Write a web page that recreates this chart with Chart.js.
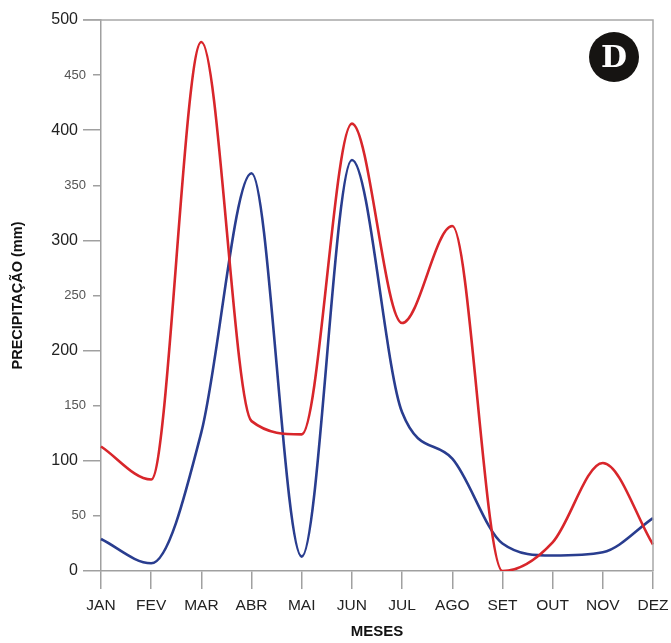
<!DOCTYPE html>
<html>
<head>
<meta charset="utf-8">
<script src="https://cdn.jsdelivr.net/npm/chart.js@4"></script>
<style>
  html, body { margin: 0; padding: 0; background: #fff; }
  #wrap { position: relative; width: 671px; height: 643px; }
  #badge {
    position: absolute; left: 589px; top: 32px; width: 50px; height: 50px;
    border-radius: 50%; background: #161412; color: #fff;
    font: bold 30px "DejaVu Serif", "Liberation Serif", serif;
    text-align: center; line-height: 50px;
  }
</style>
</head>
<body>
<div id="wrap">
  <canvas id="chuva" width="671" height="643"></canvas>
  <div id="badge">D</div>
</div>
<script>
// meses e precipitação (mm)
var meses = ['JAN', 'FEV', 'MAR', 'ABR', 'MAI', 'JUN', 'JUL', 'AGO', 'SET', 'OUT', 'NOV', 'DEZ'];
var serieVermelha = [113, 83, 480, 136, 124, 406, 225, 313, 0, 26, 98, 24];
var serieAzul = [29, 7, 126, 361, 13, 373, 144, 102, 25, 14, 17, 48];
var ticksMaiores = [0, 100, 200, 300, 400, 500];

function ehMaior(v) { return ticksMaiores.indexOf(v) >= 0; }

// moldura de cima e da direita
var moldura = {
  id: 'moldura',
  afterDraw: function(chart) {
    var a = chart.chartArea;
    var c = chart.ctx;
    c.save();
    c.strokeStyle = '#a8a8a8';
    c.lineWidth = 1.5;
    c.beginPath();
    c.moveTo(a.left - 18, a.top);
    c.lineTo(a.right, a.top);
    c.lineTo(a.right, a.bottom);
    c.stroke();
    c.restore();
  }
};

var ctx = document.getElementById('chuva').getContext('2d');
var grafico = new Chart(ctx, {
  type: 'line',
  data: {
    labels: meses,
    datasets: [
      {
        label: 'vermelha',
        data: serieVermelha,
        borderColor: '#d8262b',
        borderWidth: 2.6,
        pointRadius: 0,
        cubicInterpolationMode: 'monotone'
      },
      {
        label: 'azul',
        data: serieAzul,
        borderColor: '#293d8f',
        borderWidth: 2.6,
        pointRadius: 0,
        cubicInterpolationMode: 'monotone'
      }
    ]
  },
  options: {
    responsive: false,
    animation: false,
    layout: { padding: { left: 0, right: 18, top: 20, bottom: 0 } },
    plugins: { legend: { display: false }, tooltip: { enabled: false } },
    scales: {
      x: {
        offset: false,
        grid: { drawOnChartArea: false, tickLength: 18, color: '#a0a0a0', lineWidth: 1.5 },
        border: { color: '#a0a0a0', width: 1.5 },
        ticks: {
          color: '#222',
          padding: 7,
          maxRotation: 0,
          autoSkip: false,
          font: { family: 'Liberation Sans, Arial, sans-serif', size: 15.5 }
        },
        title: {
          display: true,
          text: 'MESES',
          color: '#111',
          padding: { top: 3, bottom: 2 },
          font: { family: 'Liberation Sans, Arial, sans-serif', size: 15, weight: 'bold' }
        },
        afterFit: function(s) {
          s.height = 72;
          s.paddingLeft = 0;
          s.paddingRight = 0;
        }
      },
      y: {
        min: 0,
        max: 500,
        grid: {
          drawOnChartArea: false,
          tickLength: 18,
          color: '#a0a0a0',
          lineWidth: 1.5,
          // ticks menores ficam curtos
          tickBorderDash: function(c) {
            return ehMaior(c.tick.value) ? [] : [0, 10, 8, 0];
          }
        },
        border: { color: '#a0a0a0', width: 1.5 },
        ticks: {
          stepSize: 50,
          color: '#222',
          padding: 5,
          font: { family: 'Liberation Sans, Arial, sans-serif', size: 16 },
          callback: function(v) { return ehMaior(v) ? v : ''; }
        },
        title: {
          display: true,
          text: 'PRECIPITAÇÃO (mm)',
          color: '#111',
          padding: { top: 9, bottom: 0 },
          font: { family: 'Liberation Sans, Arial, sans-serif', size: 14.5, weight: 'bold' }
        },
        afterFit: function(s) { s.width = 101; }
      },
      yMenor: {
        type: 'linear',
        position: { x: -0.3 },
        min: 0,
        max: 500,
        border: { display: false },
        grid: { drawOnChartArea: false, drawTicks: false, tickLength: 0 },
        ticks: {
          stepSize: 50,
          color: '#555',
          padding: 0,
          font: { family: 'Liberation Sans, Arial, sans-serif', size: 13 },
          callback: function(v) { return ehMaior(v) ? '' : v; }
        }
      }
    }
  },
  plugins: [moldura]
});
</script>
</body>
</html>
